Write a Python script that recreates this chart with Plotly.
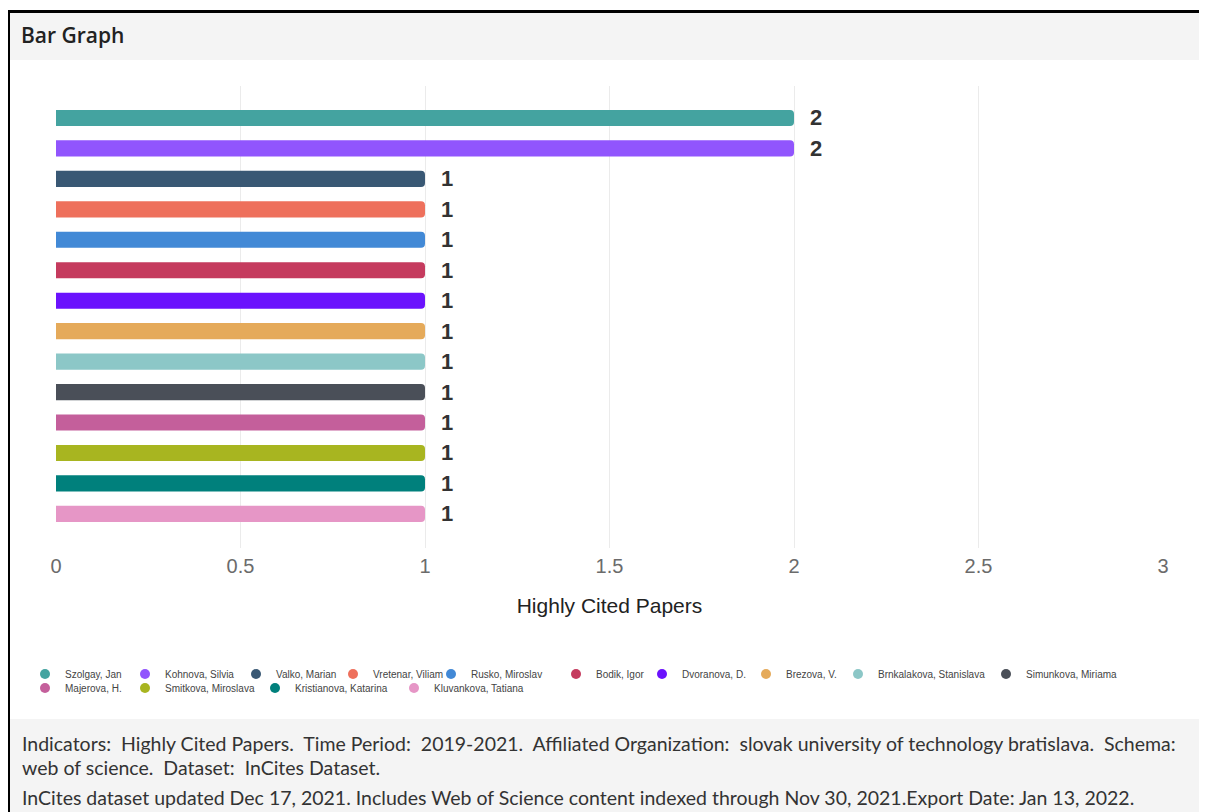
import plotly.graph_objects as go

names = ["Szolgay, Jan", "Kohnova, Silvia", "Valko, Marian", "Vretenar, Viliam",
         "Rusko, Miroslav", "Bodik, Igor", "Dvoranova, D.", "Brezova, V.",
         "Brnkalakova, Stanislava", "Simunkova, Miriama", "Majerova, H.",
         "Smitkova, Miroslava", "Kristianova, Katarina", "Kluvankova, Tatiana"]
values = [2, 2, 1, 1, 1, 1, 1, 1, 1, 1, 1, 1, 1, 1]
colors = ["#44a3a0", "#9155fd", "#395874", "#ee705c", "#4289d6", "#c53b5e",
          "#6b12fd", "#e5aa5a", "#8cc7c7", "#4a4f58", "#c45f9b", "#a8b520",
          "#00807c", "#e696c6"]
x_ticks = [0, 0.5, 1, 1.5, 2, 2.5, 3]

# layout (page pixel positions; the html body adds an 8px margin)
OFF = 8
W, H = 1207 - OFF, 812 - OFF
plot_left, plot_right, plot_top, plot_bottom = 56, 1163, 86, 548
L = plot_left - OFF
R = W - (plot_right - OFF)
T = plot_top - OFF
B = H - (plot_bottom - OFF)
pw, ph = W - L - R, H - T - B

def px(x):
    return (x - OFF - L) / pw

def py(y):
    return (H - B - (y - OFF)) / ph

# legend circle centres (page px) and row centres
legend_circle_x = [45, 145, 256, 353, 451, 576, 662, 766, 858, 1006,
                   45, 145, 275, 414]
legend_row_y = [674] * 10 + [688] * 4

fig = go.Figure()
layout_legends = {}
for i, (n, v, c) in enumerate(zip(names, values, colors)):
    lg = "legend" if i == 0 else f"legend{i + 1}"
    fig.add_trace(go.Bar(
        x=[v], y=[n], orientation="h",
        marker=dict(color=c, cornerradius=4, line=dict(width=0)),
        width=0.53, showlegend=False, hoverinfo="x+y"))
    fig.add_trace(go.Scatter(
        x=[None], y=[None], mode="markers", name=n,
        marker=dict(symbol="circle", size=10, color=c), legend=lg))
    fig.add_annotation(x=v, y=n, text=f"<b>{v}</b>", showarrow=False, xanchor="left",
                       xshift=14, font=dict(family="Liberation Sans", size=22, color="#333333"))
    layout_legends[lg] = dict(
        orientation="h", x=px(legend_circle_x[i] - 20), y=py(legend_row_y[i]),
        xanchor="left", yanchor="middle",
        font=dict(family="Liberation Sans", size=10, color="#444444"),
        itemwidth=30, bgcolor="rgba(0,0,0,0)", borderwidth=0)

shapes = [
    dict(type="rect", xref="paper", yref="paper", x0=px(10), x1=px(1207), y0=py(60), y1=py(13),
         fillcolor="#f4f4f4", line=dict(width=0), layer="below"),
    dict(type="rect", xref="paper", yref="paper", x0=px(10), x1=px(1207), y0=py(812), y1=py(719),
         fillcolor="#f4f4f4", line=dict(width=0), layer="below"),
    dict(type="rect", xref="paper", yref="paper", x0=px(7), x1=px(10), y0=py(812), y1=py(10),
         fillcolor="#000000", line=dict(width=0)),
    dict(type="rect", xref="paper", yref="paper", x0=px(7), x1=px(1207), y0=py(13), y1=py(10),
         fillcolor="#000000", line=dict(width=0)),
]

footer_font = dict(family="Lato", size=19.5, color="#333333")
texts = [
    (19, 35, "Bar Graph", dict(family="Open Sans", size=21, color="#222222", weight=600)),
    (20, 743, "Indicators:  Highly Cited Papers.  Time Period:  2019-2021.  Affiliated Organization:  slovak university of technology bratislava.  Schema:", footer_font),
    (20, 767, "web of science.  Dataset:  InCites Dataset.", footer_font),
    (20, 797, "InCites dataset updated Dec 17, 2021. Includes Web of Science content indexed through Nov 30, 2021.Export Date: Jan 13, 2022.", footer_font),
]
for x, y, t, f in texts:
    fig.add_annotation(xref="paper", yref="paper", x=px(x), y=py(y), text=t,
                       showarrow=False, xanchor="left", yanchor="middle", font=f)

fig.update_layout(
    width=W, height=H, margin=dict(l=L, r=R, t=T, b=B, autoexpand=False),
    paper_bgcolor="white", plot_bgcolor="white",
    shapes=shapes,
    xaxis=dict(range=[0, 3], tickvals=x_ticks, ticktext=[f"{t:g}" for t in x_ticks],
               showgrid=True, gridcolor="#ebebeb", gridwidth=1, zeroline=False,
               showline=False, ticks="", ticklabelstandoff=4,
               tickfont=dict(family="Liberation Sans", size=20, color="#6b6b6b"),
               title=dict(text="Highly Cited Papers", standoff=22,
                          font=dict(family="Liberation Sans", size=21, color="#222222"))),
    yaxis=dict(categoryorder="array", categoryarray=names, range=[14.12, -1.05],
               showticklabels=False, showgrid=False, zeroline=False, showline=False, ticks=""),
    **layout_legends,
)

fig.write_html("out.html")
